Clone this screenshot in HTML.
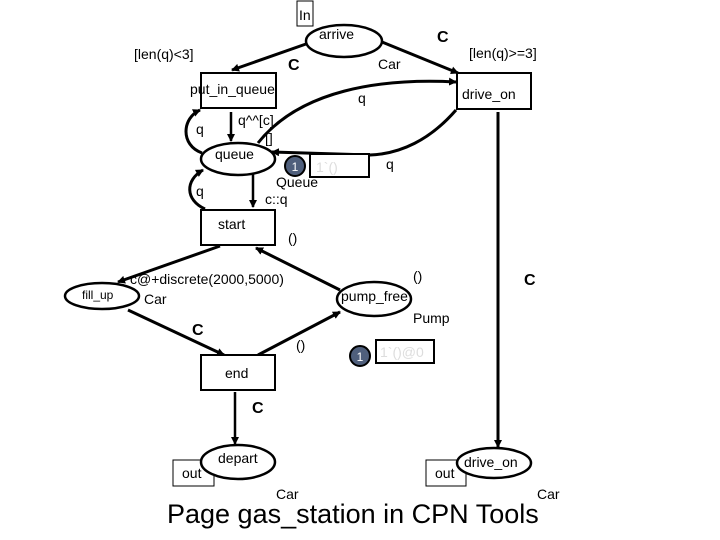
<!DOCTYPE html>
<html><head><style>body{margin:0;background:#fff}svg{display:block}</style></head><body>
<svg width="720" height="540" xmlns="http://www.w3.org/2000/svg" font-family="Liberation Sans, sans-serif">
<defs><marker id="a" markerWidth="8" markerHeight="8" refX="7" refY="4" orient="auto" markerUnits="userSpaceOnUse"><path d="M0,0 L8,4 L0,8 Z" fill="#000"/></marker></defs>
<g fill="none" stroke="#000" stroke-width="3" marker-end="url(#a)">
<line x1="306" y1="44" x2="232" y2="70"/>
<line x1="382" y1="42" x2="458" y2="73"/>
<line x1="231" y1="112" x2="231" y2="141" stroke-width="2.5"/>
<path d="M202,153 C180,145 182,118 200,110"/>
<path d="M258,143 C300,90 380,78 456,82"/>
<path d="M456,110 C430,140 400,154 370,155 L272,152"/>
<path d="M205,209 C185,200 185,180 203,170"/>
<line x1="253" y1="174" x2="253" y2="207" stroke-width="2.5"/>
<line x1="220" y1="246" x2="118" y2="282"/>
<line x1="340" y1="290" x2="256" y2="248"/>
<line x1="128" y1="310" x2="224" y2="355"/>
<line x1="258" y1="355" x2="340" y2="312"/>
<line x1="235" y1="392" x2="235" y2="444" stroke-width="2.5"/>
<line x1="498" y1="112" x2="498" y2="447"/>
</g>
<g fill="#fff" stroke="#000" stroke-width="2">
<ellipse cx="344" cy="41" rx="38" ry="16" stroke-width="2.5"/>
<rect x="201" y="73" width="75" height="35"/>
<rect x="457" y="73" width="74" height="36"/>
<ellipse cx="238" cy="159" rx="37" ry="16" stroke-width="2.5"/>
<rect x="201" y="210" width="74" height="35"/>
<ellipse cx="102" cy="296" rx="37" ry="13" stroke-width="2.5"/>
<ellipse cx="374" cy="299" rx="37" ry="17" stroke-width="2.5"/>
<rect x="201" y="355" width="74" height="35"/>
<rect x="173" y="460" width="41" height="26" stroke-width="1"/>
<ellipse cx="238" cy="462" rx="37" ry="17" stroke-width="2.5"/>
<rect x="426" y="460" width="40" height="26" stroke-width="1"/>
<ellipse cx="494" cy="463" rx="37" ry="15" stroke-width="2.5"/>
<rect x="297" y="1" width="16" height="25" stroke-width="1"/>
<rect x="310" y="154" width="59" height="23"/>
<rect x="376" y="340" width="58" height="23"/>
</g>
<circle cx="295" cy="166" r="10" fill="#4f5f7c" stroke="#000" stroke-width="2"/>
<circle cx="360" cy="356" r="10" fill="#4f5f7c" stroke="#000" stroke-width="2"/>
<g font-size="14" fill="#000">
<text x="299" y="20">In</text>
<text x="319" y="39">arrive</text>
<text x="134" y="59">[len(q)&lt;3]</text>
<text x="288" y="70" font-weight="bold" font-size="16">C</text>
<text x="437" y="42" font-weight="bold" font-size="16">C</text>
<text x="378" y="69">Car</text>
<text x="469" y="58">[len(q)&gt;=3]</text>
<text x="190" y="94">put_in_queue</text>
<text x="462" y="99">drive_on</text>
<text x="358" y="103">q</text>
<text x="238" y="125">q^^[c]</text>
<text x="265" y="143">[]</text>
<text x="196" y="134">q</text>
<text x="215" y="159">queue</text>
<text x="295" y="171" fill="#fff" font-size="12" text-anchor="middle">1</text>
<text x="316" y="172" fill="#ddd">1`()</text>
<text x="386" y="169">q</text>
<text x="276" y="187">Queue</text>
<text x="265" y="204">c::q</text>
<text x="196" y="196">q</text>
<text x="218" y="229">start</text>
<text x="288" y="243">()</text>
<text x="130" y="284">c@+discrete(2000,5000)</text>
<text x="82" y="299" font-size="12">fill_up</text>
<text x="144" y="304">Car</text>
<text x="341" y="301">pump_free</text>
<text x="413" y="281">()</text>
<text x="524" y="285" font-weight="bold" font-size="16">C</text>
<text x="413" y="323">Pump</text>
<text x="192" y="335" font-weight="bold" font-size="16">C</text>
<text x="296" y="350">()</text>
<text x="360" y="361" fill="#fff" font-size="12" text-anchor="middle">1</text>
<text x="380" y="357" fill="#ddd">1`()@0</text>
<text x="225" y="378">end</text>
<text x="252" y="413" font-weight="bold" font-size="16">C</text>
<text x="218" y="463">depart</text>
<text x="182" y="478">out</text>
<text x="464" y="467">drive_on</text>
<text x="435" y="478">out</text>
<text x="276" y="499">Car</text>
<text x="537" y="499">Car</text>
</g>
<text x="167" y="523" font-size="27">Page gas_station in CPN Tools</text>
</svg>
</body></html>
